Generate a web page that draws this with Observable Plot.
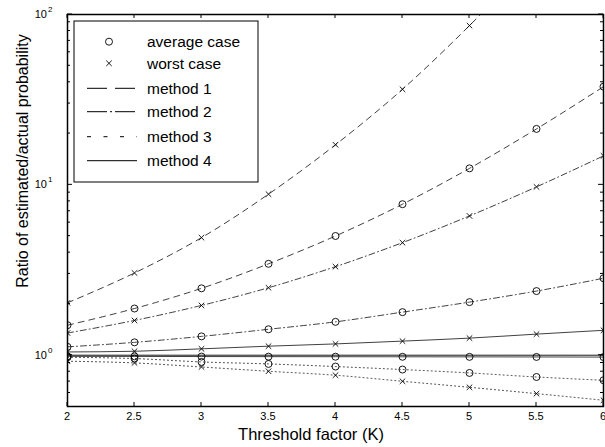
<!DOCTYPE html>
<html><head><meta charset="utf-8">
<script src="https://cdn.jsdelivr.net/npm/d3@7"></script>
<script src="https://cdn.jsdelivr.net/npm/@observablehq/plot@0.6"></script>
<style>
body{margin:0;background:#fff}
#chart{position:relative;width:605px;height:447px}
svg{font-family:"Liberation Sans",Arial,Helvetica,sans-serif}
</style>
</head><body><div id="chart"></div>
<script>
// ---- data ----
const K = [2, 2.5, 3, 3.5, 4, 4.5, 5, 5.5, 6];
const m1Avg   = [1.50, 1.88, 2.47, 3.44, 5.01, 7.70, 12.5, 21.3, 37.7];
const m1Worst = [2.03, 3.04, 4.90, 8.82, 17.2, 36.4, 86.1, 219, 560];
const m2Avg   = [1.12, 1.19, 1.29, 1.42, 1.57, 1.79, 2.05, 2.38, 2.83];
const m2Worst = [1.35, 1.60, 1.96, 2.49, 3.31, 4.58, 6.57, 9.73, 14.8];
const m3Avg   = [0.973, 0.956, 0.913, 0.889, 0.858, 0.824, 0.787, 0.745, 0.713];
const m3Worst = [0.922, 0.901, 0.853, 0.805, 0.763, 0.703, 0.648, 0.595, 0.544];
const m4Avg   = [0.985, 0.984, 0.982, 0.981, 0.980, 0.979, 0.978, 0.977, 0.975];
const m4Worst = [1.045, 1.055, 1.09, 1.13, 1.165, 1.21, 1.26, 1.33, 1.40];
const refLine = [1];

const xTicks = [2, 2.5, 3, 3.5, 4, 4.5, 5, 5.5, 6];
const yMajor = [1, 10, 100];
const yMajorExp = ["0", "1", "2"];
const yMinor = [0.6, 0.7, 0.8, 0.9, 2, 3, 4, 5, 6, 7, 8, 9, 20, 30, 40, 50, 60, 70, 80, 90];

const methods = ["method 1", "method 2", "method 3", "method 4"];
const caseNames = ["average case", "worst case"];
const xLabel = "Threshold factor (K)";
const yLabel = "Ratio of estimated/actual probability";

const seriesDefs = [
  {method: "method 1", kind: "average", vals: m1Avg},
  {method: "method 1", kind: "worst", vals: m1Worst},
  {method: "method 2", kind: "average", vals: m2Avg},
  {method: "method 2", kind: "worst", vals: m2Worst},
  {method: "method 3", kind: "average", vals: m3Avg},
  {method: "method 3", kind: "worst", vals: m3Worst},
  {method: "method 4", kind: "average", vals: m4Avg},
  {method: "method 4", kind: "worst", vals: m4Worst}
];
const rows = seriesDefs.flatMap(s => s.vals.map((v, i) => ({k: K[i], v, method: s.method, kind: s.kind, id: s.method + s.kind})));

// styles
const plotDash = {"method 1": "6,5", "method 2": "6,3,1,3", "method 3": "1,3", "method 4": null};
const legendDash = {"method 1": "20,8", "method 2": "20,3,2,3", "method 3": "4,12.5", "method 4": null};

const lineMarks = seriesDefs.map(s => Plot.line(rows.filter(r => r.id === s.method + s.kind), {
  x: "k", y: "v", stroke: "#000", strokeWidth: 0.75,
  strokeDasharray: plotDash[s.method], curve: "monotone-x", clip: true
}));

const plot = Plot.plot({
  width: 605, height: 447,
  marginLeft: 67, marginRight: 2, marginTop: 14, marginBottom: 41,
  style: {background: "#fff", fontFamily: "Liberation Sans, Arial, sans-serif"},
  x: {domain: [2, 6], axis: null},
  y: {type: "log", domain: [0.5, 100], axis: null},
  marks: [
    Plot.ruleY(refLine, {stroke: "#000", strokeWidth: 0.9}),
    ...lineMarks,
    Plot.dot(rows.filter(r => r.kind === "average"), {x: "k", y: "v", symbol: "circle", r: 3.5, stroke: "#000", strokeWidth: 0.9, fill: "none", clip: true}),
    Plot.dot(rows.filter(r => r.kind === "worst"), {x: "k", y: "v", symbol: "times", r: 2.6, stroke: "#000", strokeWidth: 0.9, clip: true}),
    Plot.frame({stroke: "#000", strokeWidth: 1.5})
  ]
});
document.getElementById("chart").appendChild(plot);

const svg = d3.select(plot);
const sx = plot.scale("x"), sy = plot.scale("y");
const X0 = 67, X1 = 603, Y0 = 14, Y1 = 406;
const g = svg.append("g").attr("stroke", "#000").attr("stroke-width", 1);

// x ticks (bottom + top, inward)
xTicks.forEach(t => {
  const px = sx.apply(t);
  g.append("line").attr("x1", px).attr("x2", px).attr("y1", Y1).attr("y2", Y1 - 4);
  g.append("line").attr("x1", px).attr("x2", px).attr("y1", Y0).attr("y2", Y0 + 4);
});
// y ticks (left + right, inward)
yMajor.forEach(t => {
  const py = sy.apply(t);
  g.append("line").attr("x1", X0).attr("x2", X0 + 5).attr("y1", py).attr("y2", py);
  g.append("line").attr("x1", X1).attr("x2", X1 - 5).attr("y1", py).attr("y2", py);
});
yMinor.forEach(t => {
  const py = sy.apply(t);
  g.append("line").attr("x1", X0).attr("x2", X0 + 3).attr("y1", py).attr("y2", py);
  g.append("line").attr("x1", X1).attr("x2", X1 - 3).attr("y1", py).attr("y2", py);
});

const tg = svg.append("g").attr("fill", "#000").attr("font-family", "Liberation Sans, Arial, sans-serif");
// x tick labels
xTicks.forEach(t => {
  tg.append("text").attr("x", sx.apply(t)).attr("y", 420).attr("text-anchor", "middle")
    .attr("font-size", 11).text(String(t));
});
// y tick labels with superscripts
yMajor.forEach((t, i) => {
  const py = sy.apply(t);
  tg.append("text").attr("x", 47).attr("y", py + 4).attr("text-anchor", "end").attr("font-size", 11).text("10");
  tg.append("text").attr("x", 48).attr("y", py - 2).attr("text-anchor", "start").attr("font-size", 8).text(yMajorExp[i]);
});
// axis titles
tg.append("text").attr("x", 311).attr("y", 440).attr("text-anchor", "middle").attr("font-size", 16.5).text(xLabel);
tg.append("text").attr("transform", "translate(28,161) rotate(-90)").attr("text-anchor", "middle").attr("font-size", 16).text(yLabel);

// legend
const lg = svg.append("g");
lg.append("rect").attr("x", 74).attr("y", 21).attr("width", 184).attr("height", 161)
  .attr("fill", "#fff").attr("stroke", "#000").attr("stroke-width", 1);
const rowY = [41.7, 63.3, 88.3, 111.7, 136.7, 160.7];
const legendItems = [
  {label: caseNames[0], type: "circle"},
  {label: caseNames[1], type: "times"},
  ...methods.map(m => ({label: m, type: "line", method: m}))
];
legendItems.forEach((it, i) => {
  const y = rowY[i];
  if (it.type === "circle") {
    lg.append("circle").attr("cx", 109).attr("cy", y).attr("r", 3.5).attr("fill", "none").attr("stroke", "#000").attr("stroke-width", 0.9);
  } else if (it.type === "times") {
    lg.append("path").attr("d", d3.symbol(d3.symbolTimes, Math.PI * 2.6 * 2.6)()).attr("transform", `translate(109,${y})`)
      .attr("fill", "none").attr("stroke", "#000").attr("stroke-width", 0.9);
  } else {
    lg.append("line").attr("x1", 87).attr("x2", 137).attr("y1", y).attr("y2", y)
      .attr("stroke", "#000").attr("stroke-width", 1).attr("stroke-dasharray", legendDash[it.method]);
  }
  lg.append("text").attr("x", 147).attr("y", y + 5.5).attr("font-size", 15.5).attr("text-anchor", "start")
    .attr("font-family", "Liberation Sans, Arial, sans-serif").attr("fill", "#000").text(it.label);
});
</script>
</body></html>
